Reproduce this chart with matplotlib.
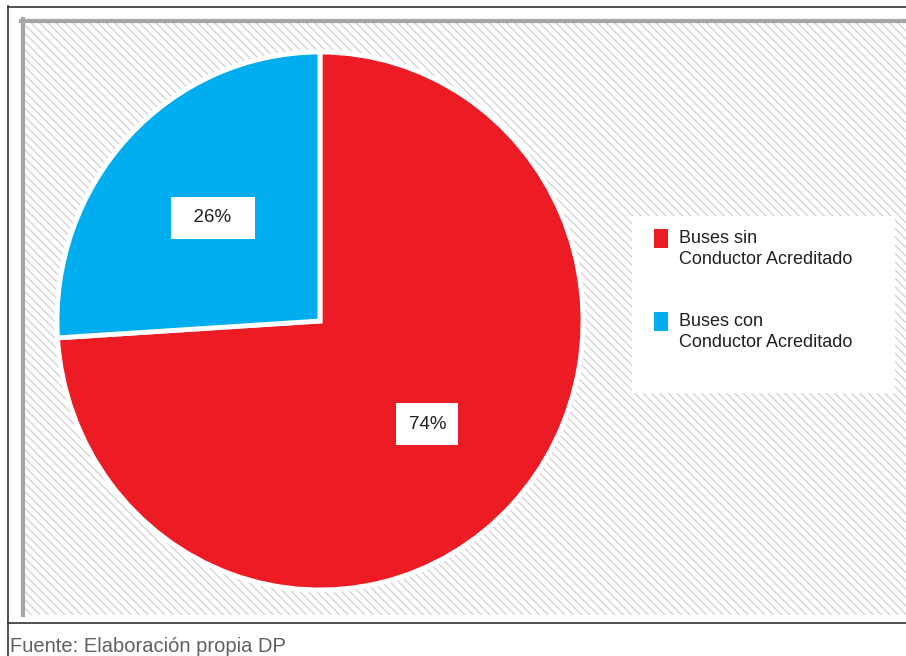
import matplotlib.pyplot as plt
from matplotlib.patches import Rectangle
from matplotlib.lines import Line2D

plt.rcParams['font.family'] = ['Liberation Sans', 'DejaVu Sans']

labels = ['Buses sin\nConductor Acreditado', 'Buses con\nConductor Acreditado']
values = [74, 26]
colors = ['#ED1C24', '#00AEEF']
source = 'Fuente: Elaboración propia DP'

W, H = 906, 656
fig = plt.figure(figsize=(W / 100, H / 100), dpi=100)
fig.patch.set_facecolor('white')


def fx(px):
    return px / W


def fy(py):
    return 1 - py / H


# hatched panel
plt.rcParams['hatch.linewidth'] = 1.0
panel = Rectangle((fx(24), fy(615)), fx(906 - 24), (615 - 22) / H,
                  transform=fig.transFigure, facecolor='white',
                  edgecolor='#d4d4d4', linewidth=0, hatch='\\\\\\\\', zorder=-2)
fig.patches.append(panel)

# frame lines
fig.add_artist(Line2D([fx(23), fx(23)], [fy(19), fy(615)], color='#a6a6a6', lw=3))
fig.add_artist(Line2D([fx(21), fx(906)], [fy(21), fy(21)], color='#a6a6a6', lw=3))
fig.add_artist(Line2D([fx(8), fx(8)], [fy(6), 0], color='#333333', lw=1.2))
fig.add_artist(Line2D([fx(8), 1], [fy(7), fy(7)], color='#333333', lw=1.2))
fig.add_artist(Line2D([fx(8), 1], [fy(623), fy(623)], color='#333333', lw=1.2))

# pie
cx, cy, rx, ry = 320, 321, 263, 269
ax = fig.add_axes([fx(cx - rx), fy(cy + ry), 2 * rx / W, 2 * ry / H], zorder=2)
wedges, texts, autotexts = ax.pie(
    values, colors=colors, startangle=90, counterclock=False,
    autopct='%d%%', pctdistance=0.56,
    wedgeprops=dict(edgecolor='white', linewidth=3.5),
    textprops=dict(fontsize=13.5, color='#231f20'))
ax.set_aspect('auto')
ax.set_xlim(-1, 1)
ax.set_ylim(-1, 1)
ax.axis('off')
pads = [0.65, 0.68]
for t, p in zip(autotexts, pads):
    t.set_bbox(dict(boxstyle='square,pad=%s' % p, facecolor='white', edgecolor='none'))
autotexts[1].set_text('  26%  ')

# legend box
fig.patches.append(Rectangle((fx(632), fy(393)), fx(895 - 632), (393 - 216) / H,
                             transform=fig.transFigure, facecolor='white',
                             edgecolor='none', zorder=1))
leg = fig.legend(wedges, labels, loc='upper left',
                 bbox_to_anchor=(fx(638), fy(214)), frameon=False,
                 fontsize=13, handlelength=0.78, handleheight=1.24,
                 handletextpad=0.6, labelspacing=2.5)
leg.set_zorder(3)
for hp in leg._legend_handle_box.get_children():
    hp.align = 'top'
for t in leg.get_texts():
    t.set_color('#231f20')
    t.set_linespacing(1.3)
for h in leg.legend_handles:
    h.set_edgecolor('none')
    h.set_y(h.get_y() + 8)

# source
fig.text(fx(10), fy(652), source, fontsize=14.5, color='#606060',
         va='baseline', ha='left')

fig.savefig('out.png', dpi=100)
